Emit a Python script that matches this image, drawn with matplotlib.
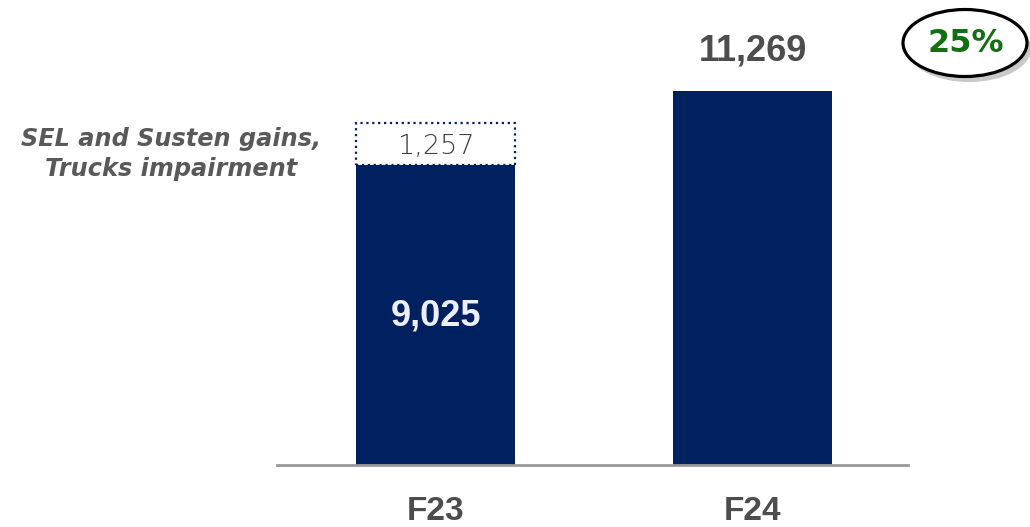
import matplotlib
matplotlib.use("Agg")
import matplotlib.pyplot as plt
from matplotlib.patches import Ellipse
import matplotlib.patheffects as pe

# data
years = ['F23', 'F24']
base = [9025, 11269]
one_off = [1257, 0]
growth = '25%'
note = 'SEL and Susten gains,\nTrucks impairment'

navy = '#002060'
grey = '#4d4d4d'
bold_font = 'Liberation Sans'

fig = plt.figure(figsize=(10.30, 5.27), dpi=100)
ax = fig.add_axes([0.2689, 0.1176, 0.6126, 0.8824])

x = list(range(len(years)))
ax.bar(x, base, width=0.5, color=navy, zorder=2)

# dotted box for the one-off items stacked on F23
ax.bar(x[0], one_off[0], bottom=base[0], width=0.5, color='white',
       edgecolor=navy, linestyle=':', linewidth=1.6, zorder=2)
ax.text(x[0], base[0] + one_off[0] / 2 - 60, f'{one_off[0]:,}', ha='center',
        va='center', fontsize=19.5, color='#404040', fontweight='light',
        family='DejaVu Sans')

# value labels
ax.text(x[0], base[0] / 2 - 30, f'{base[0]:,}', ha='center', va='center',
        fontsize=26, fontweight='bold', color='#eceef8', family=bold_font)
ax.text(x[1], base[1] + 1200, f'{base[1]:,}', ha='center', va='center',
        fontsize=26, fontweight='bold', color=grey, family=bold_font)

ax.set_xlim(-0.5, 1.49)
ax.set_ylim(0, 14000)
ax.set_xticks(x)
ax.set_xticklabels(years, fontsize=24, fontweight='bold', color=grey,
                   family=bold_font)
ax.tick_params(axis='x', length=0, pad=22)
ax.set_yticks([])
for s in ['top', 'left', 'right']:
    ax.spines[s].set_visible(False)
ax.spines['bottom'].set_color('#999999')
ax.spines['bottom'].set_linewidth(2)

# side note for the dotted box
fig.text(171 / 1030, 1 - 154 / 527, note, ha='center', va='center',
         fontsize=17.3, fontweight='bold', style='italic', color='#595959',
         family='DejaVu Sans', linespacing=1.3)

# growth bubble
ell = Ellipse((965 / 1030, 1 - 43 / 527), 124 / 1030, 67 / 527,
              transform=fig.transFigure, facecolor='white', edgecolor='black',
              linewidth=2.3, zorder=5)
ell.set_path_effects([pe.SimplePatchShadow(offset=(3, -4), alpha=0.3),
                      pe.Normal()])
fig.patches.append(ell)
fig.text(966 / 1030, 1 - 44 / 527, growth, ha='center', va='center',
         fontsize=23, fontweight='bold', color='#127012',
         family='DejaVu Sans', zorder=6)

fig.savefig('out.png', dpi=100)
